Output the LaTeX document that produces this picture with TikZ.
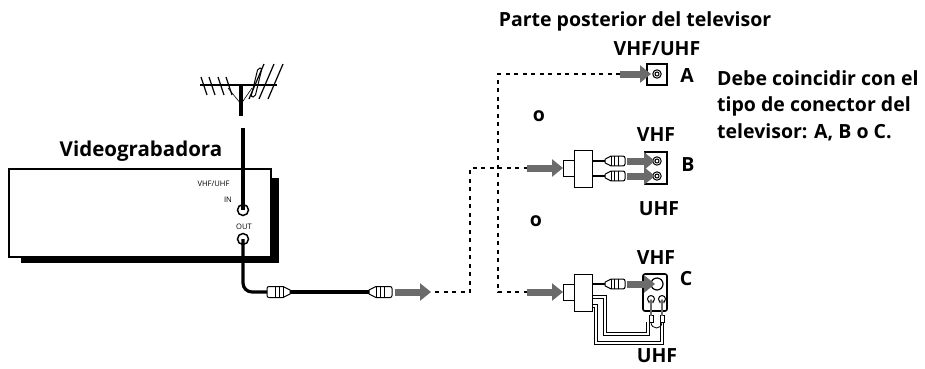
\documentclass[tikz,border=0pt]{standalone}
\usepackage{fontspec}
\setmainfont{Open Sans}
\usetikzlibrary{calc,arrows.meta}

\tikzset{
  lbl/.style={font=\bfseries\fontsize{19.5}{22}\selectfont, inner sep=0pt},
  tiny/.style={font=\fontsize{7.6}{9}\selectfont, inner sep=0pt},
  dots/.style={line width=1.6pt, dash pattern=on 4pt off 4.5pt},
  garrow/.style={draw=black!58, line width=7pt, -{Triangle[length=11pt,width=17pt]}},
  sarrow/.style={draw=black!58, line width=2pt, -{Triangle[length=4pt,width=6pt]}},
  cable/.style={line width=3.2pt},
  wire/.style={line width=1.5pt},
  dwire/.style={line width=0.9pt, double=white, double distance=2.2pt},
}
% rf plug: nose at #1, body runs along +x times #2
\def\plug(#1)(#2,#3){%
  \begin{scope}[shift={(#1)},xscale=#2,yscale=#3]
    \draw[fill=white, line width=1pt] (23,-2) -- (16,-5.5) [rounded corners=2pt]-- (0,-5.5) -- (0,5.5) [sharp corners]-- (16,5.5) -- (23,2) -- cycle;
    \draw[line width=0.8pt] (8,-5.5) -- (8,5.5) (12,-5.5) -- (12,5.5) (16,-5.5) -- (16,5.5);
  \end{scope}}
% adapter body with its narrow input end
\def\adapter(#1){%
  \begin{scope}[shift={(#1)}]
    \draw[fill=white, line width=1pt] (0,-8) rectangle (11,8);
    \draw[fill=white, line width=1pt] (11,-18) rectangle (29,19);
  \end{scope}}

\begin{document}
\begin{tikzpicture}[x=1pt,y=-1pt]
  \useasboundingbox (0,0) rectangle (925,368);

  %%%%% antenna %%%%%
  \draw[line width=1.4pt] (200,85) -- (277,85);
  \foreach \x in {204,212,221,229} \draw[line width=1.2pt] (\x-3,77) -- (\x+3,95);
  \foreach \x in {257,267,276} \draw[line width=1.2pt] (\x-8,99) -- (\x+7,64);
  \draw[line width=1pt, rounded corners=2pt] (251,97) -- (258,68) -- (262,68) -- (255,97) -- cycle;
  \draw[line width=0.6pt] (228,88) -- (241,104) -- (252,88);
  \draw[line width=3.2pt] (241,84) -- (241,116);

  %%%%% videograbadora %%%%%
  \fill (21,178) rectangle (279,263);
  \draw[line width=1.6pt, fill=white] (9,169) rectangle (271,257);
  \node[lbl, font=\bfseries\fontsize{20.5}{22}\selectfont] (vcr) at (141,151) {Videograbadora};
  \coordinate (in) at (243,210);
  \coordinate (out) at (243,239);
  \coordinate (mast) at (243,128);
  \node[tiny] (vhfuhf) at (213.5,183.5) {VHF/UHF};
  \node[tiny] (inlbl) at (228,200) {IN};
  \node[tiny] (outlbl) at (244,227) {OUT};
  \draw[cable] (mast) -- (in);
  \draw[line width=1.5pt] (in) circle (5.5);
  \draw[line width=1.5pt] (out) circle (5.5);

  %%%%% cable %%%%%
  \coordinate (lp) at (267,292);
  \coordinate (rp) at (392,292);
  \draw[cable, rounded corners=9pt] (out) -- (243,292) -- (lp);
  \draw[cable] ($(lp)+(20,0)$) -- ($(rp)+(-20,0)$);
  \plug(lp)(1,1)
  \plug(rp)(-1,1)
  \draw[garrow] (395,292) -- (431,292);

  %%%%% dashed runs %%%%%
  \coordinate (d0) at (435,292);
  \coordinate (d1) at (620,74);
  \draw[dots] (d0) -- (470,292) -- (470,168) -- (527,168);
  \draw[dots] (d1) -- (498,74) -- (498,292) -- (527,292);

  %%%%% A %%%%%
  \coordinate (ja) at (657,74);
  \draw[line width=1.3pt, fill=white] (647,64) rectangle (667,85);
  \draw[line width=1pt] (ja) circle (4.2) (ja) circle (2);
  \draw[garrow] (d1) -- (651,74);
  \node[lbl] (a) at (687,76) {A};

  %%%%% B %%%%%
  \draw[garrow] (527,168) -- (563,168);
  \adapter(563,168)
  \coordinate (jbv) at (657,161);
  \coordinate (jbu) at (657,176);
  \draw[wire] (592,161) -- (606,161) (592,176) -- (606,176);
  \plug(625,161)(-0.87,0.9)
  \plug(625,176)(-0.87,0.9)
  \draw[line width=1.3pt, fill=white] (645,152) rectangle (667,184);
  \draw[line width=1pt] (jbv) circle (4.2) (jbv) circle (2);
  \draw[line width=1pt] (jbu) circle (4.2) (jbu) circle (2);
  \draw[garrow] (627,161) -- (655,161);
  \draw[garrow] (627,176) -- (655,176);
  \node[lbl] (b) at (688,165) {B};
  \node[lbl] (bvhf) at (656,135) {VHF};
  \node[lbl] (buhf) at (659,209) {UHF};
  \node[lbl] (o1) at (539,116) {o};

  %%%%% C %%%%%
  \draw[garrow] (527,292) -- (563,292);
  \coordinate (jcv) at (657,284);
  \coordinate (jcl) at (651,299);
  \coordinate (jcr) at (662,299);
  \draw[dwire] (592,297) -- (605,297) -- (605,334) -- (648,334) -- (648,322);
  \draw[dwire] (592,306) -- (596,306) -- (596,343) -- (662,343) -- (662,322);
  \adapter(563,292)
  \draw[wire] (592,284) -- (606,284);
  \plug(625,284)(-0.87,0.9)
  \draw[line width=1.6pt, fill=white, rounded corners=2pt] (643,274) rectangle (667,311);
  \draw[line width=1.2pt] (jcv) circle (6);
  \draw[line width=1pt] (jcl) circle (3.5) (jcr) circle (3.5);
  \draw[line width=0.8pt] (651,322) .. controls (651,330) and (662,330) .. (662,322);
  \draw[line width=0.8pt, fill=white] (649,315) rectangle (653,322) (660,315) rectangle (664,322);
  \draw[sarrow] (651,316) -- (jcl);
  \draw[sarrow] (662,316) -- (jcr);
  \draw[garrow] (627,284) -- (655,284);
  \node[lbl] (c) at (686,279) {C};
  \node[lbl] (cvhf) at (656,258) {VHF};
  \node[lbl] (cuhf) at (657,356) {UHF};
  \node[lbl] (o2) at (536,221) {o};

  %%%%% texts %%%%%
  \node[lbl] (head) at (635,21) {Parte posterior del televisor};
  \node[lbl] (ahead) at (657,49) {VHF/UHF};
  \node[lbl, anchor=base west] (note1) at (717,85) {Debe coincidir con el};
  \node[lbl, anchor=base west] (note2) at (717,111.5) {tipo de conector del};
  \node[lbl, anchor=base west] (note3) at (717,138) {televisor: A, B o C.};
\end{tikzpicture}
\end{document}
